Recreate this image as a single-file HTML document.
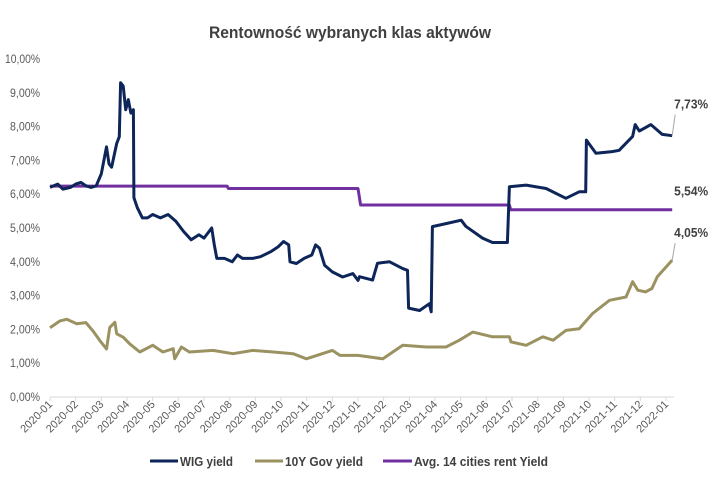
<!DOCTYPE html>
<html><head><meta charset="utf-8"><style>
html,body{margin:0;padding:0;background:#fff;}
svg text{font-family:"Liberation Sans Narrow","Liberation Sans",sans-serif;}
</style></head><body>
<svg id="chart" width="712" height="486" viewBox="0 0 712 486" xmlns="http://www.w3.org/2000/svg">
<text x="350" y="38" text-anchor="middle" font-size="17" font-weight="bold" fill="#404040" textLength="282" lengthAdjust="spacingAndGlyphs">Rentowność wybranych klas aktywów</text>
<g id="yaxis"></g>
<g id="xaxis"></g>
<g id="series"></g>
<g id="labels"></g>
<g>
  <g>
    <line x1="150" y1="461" x2="178" y2="461" stroke="#0d2559" stroke-width="3"/>
    <text x="180" y="466" font-size="13" font-weight="bold" fill="#404040" textLength="53" lengthAdjust="spacingAndGlyphs">WIG yield</text>
  </g>
  <g>
    <line x1="255" y1="461" x2="283" y2="461" stroke="#9b9262" stroke-width="3"/>
    <text x="285" y="466" font-size="13" font-weight="bold" fill="#404040" textLength="78" lengthAdjust="spacingAndGlyphs">10Y Gov yield</text>
  </g>
  <g>
    <line x1="383" y1="461" x2="412" y2="461" stroke="#7030a0" stroke-width="3"/>
    <text x="414" y="466" font-size="13" font-weight="bold" fill="#404040" textLength="134" lengthAdjust="spacingAndGlyphs">Avg. 14 cities rent Yield</text>
  </g>
</g>
</svg>
<script>
// month index since 2020-01 (fractional) and value in %
const monthLabels = ["2020-01","2020-02","2020-03","2020-04","2020-05","2020-06","2020-07","2020-08","2020-09","2020-10","2020-11","2020-12","2021-01","2021-02","2021-03","2021-04","2021-05","2021-06","2021-07","2021-08","2021-09","2021-10","2021-11","2021-12","2022-01"];
const yTicks = [0,1,2,3,4,5,6,7,8,9,10];
const wigT = [0,0.3,0.5,0.8,1.0,1.2,1.4,1.6,1.8,2.0,2.2,2.3,2.4,2.6,2.7,2.75,2.85,2.95,3.05,3.15,3.25,3.27,3.4,3.6,3.8,4.0,4.3,4.6,4.9,5.2,5.5,5.8,6.0,6.3,6.4,6.5,6.8,7.1,7.3,7.5,7.9,8.2,8.6,8.9,9.1,9.3,9.35,9.6,9.9,10.2,10.35,10.5,10.7,11.0,11.4,11.8,12.0,12.06,12.57,12.76,13.23,13.74,13.93,13.97,14.4,14.78,14.85,14.9,15.43,16.02,16.2,16.85,17.24,17.82,17.9,18.55,19.33,20.1,20.62,20.87,20.9,21.27,21.9,22.18,22.3,22.7,22.8,22.96,23.41,23.85,24.24];
const wigV = [6.2,6.3,6.15,6.2,6.3,6.35,6.25,6.2,6.25,6.6,7.4,6.9,6.8,7.5,7.7,9.3,9.2,8.5,8.8,8.4,8.5,5.9,5.6,5.3,5.3,5.4,5.3,5.4,5.2,4.9,4.65,4.8,4.7,5.0,4.5,4.1,4.1,4.0,4.2,4.1,4.1,4.15,4.3,4.45,4.6,4.5,4.0,3.95,4.1,4.2,4.5,4.4,3.9,3.7,3.55,3.65,3.45,3.56,3.46,3.96,4.0,3.8,3.75,2.63,2.56,2.76,2.52,5.04,5.13,5.23,5.05,4.7,4.57,4.57,6.22,6.27,6.17,5.88,6.07,6.07,7.6,7.21,7.26,7.3,7.4,7.71,8.06,7.87,8.06,7.77,7.73];
const govT = [0,0.39,0.65,1.04,1.4,1.68,1.95,2.2,2.33,2.53,2.6,2.85,3.11,3.5,4.0,4.4,4.8,4.86,5.12,5.43,6.35,7.13,7.9,8.7,9.47,9.99,11.0,11.3,12.0,12.97,13.74,14.66,15.43,15.95,16.47,17.24,17.9,17.96,18.55,19.2,19.6,20.1,20.62,21.14,21.8,22.44,22.7,22.9,23.2,23.45,23.66,24.24];
const govV = [2.05,2.25,2.3,2.17,2.2,1.95,1.66,1.42,2.06,2.21,1.87,1.77,1.57,1.33,1.53,1.33,1.43,1.13,1.48,1.33,1.38,1.28,1.38,1.33,1.28,1.13,1.38,1.23,1.23,1.13,1.53,1.48,1.48,1.68,1.92,1.78,1.78,1.63,1.53,1.78,1.68,1.97,2.02,2.47,2.86,2.96,3.41,3.16,3.11,3.21,3.56,4.05];
const rentT = [0,6.9,6.95,12.0,12.1,17.9,17.95,24.24];
const rentV = [6.24,6.24,6.17,6.17,5.68,5.68,5.54,5.54];
const endLabels = ["7,73%","5,54%","4,05%"];

const NS="http://www.w3.org/2000/svg";
const X0=50, XPM=(666-50)/24, Y0=397, YPP=33.8;
const xs=t=>X0+t*XPM, ys=v=>Y0-v*YPP;
function mk(tag,attrs,parent){const e=document.createElementNS(NS,tag);for(const k in attrs)e.setAttribute(k,attrs[k]);parent.appendChild(e);return e;}
const yaxis=document.getElementById('yaxis'), xaxis=document.getElementById('xaxis'), series=document.getElementById('series'), labels=document.getElementById('labels');
yTicks.forEach(v=>{
  const s=v.toFixed(2).replace('.',',')+'%';
  const t=mk('text',{x:40,y:ys(v)+4,'text-anchor':'end','font-size':'11.5',fill:'#595959',textLength:s.length>5?35:30,lengthAdjust:'spacingAndGlyphs'},yaxis);
  
  
  t.textContent=s;
});
const ax=mk('line',{x1:X0,y1:Y0,x2:674,y2:Y0,stroke:'#d9d9d9','stroke-width':1},xaxis);


monthLabels.forEach((m,i)=>{
  const x=xs(i);
  mk('line',{x1:x,y1:Y0,x2:x,y2:Y0+4,stroke:'#d9d9d9'},xaxis);
  const t=mk('text',{x:x+3,y:Y0+8,'text-anchor':'end','font-size':'11',fill:'#595959',textLength:40,lengthAdjust:'spacingAndGlyphs',transform:`rotate(-45 ${x+3} ${Y0+8})`},xaxis);
  
  
  t.textContent=m;
});
function line(T,V,color,name){
  const d=T.map((t,i)=>(i?'L':'M')+xs(t).toFixed(1)+','+ys(V[i]).toFixed(1)).join('');
  const p=mk('path',{d:d,fill:'none',stroke:color,'stroke-width':3,'stroke-linejoin':'round'},series);
  
  
}
line(govT,govV,'#9b9262','gov-10y-line');
line(rentT,rentV,'#7030a0','rent-yield-line');
line(wigT,wigV,'#0d2559','wig-yield-line');
const lastW=wigV[wigV.length-1], lastR=rentV[rentV.length-1], lastG=govV[govV.length-1], tEnd=24.24;
[[lastW,-27,endLabels[0]],[lastR,-14,endLabels[1]],[lastG,-23,endLabels[2]]].forEach(([v,dy,s],i)=>{
  const x=xs(tEnd), y=ys(v);
  if(i!==1) mk('line',{x1:x,y1:y,x2:x+3,y2:y+dy+6,stroke:'#a6a6a6'},labels);
  const t=mk('text',{x:x+19,y:y+dy,'text-anchor':'middle','font-size':'13','font-weight':'bold',fill:'#404040',textLength:34,lengthAdjust:'spacingAndGlyphs'},labels);
  
  
  t.textContent=s;
});
</script>
</body></html>
